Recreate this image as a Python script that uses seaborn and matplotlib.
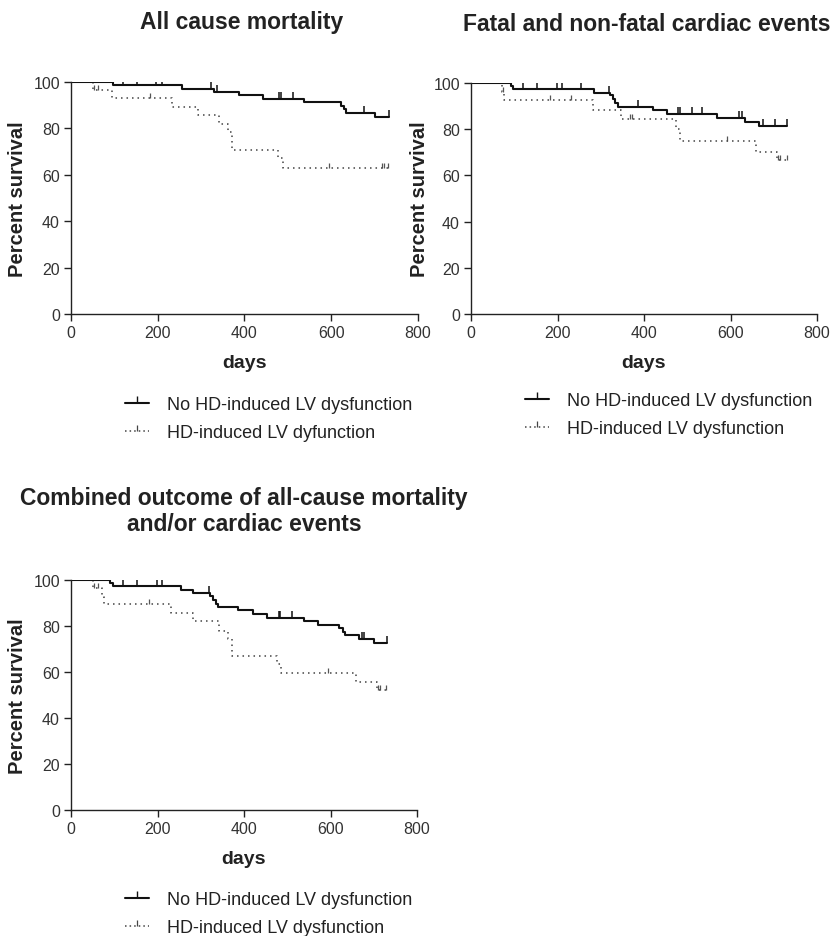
import numpy as np
import pandas as pd
import matplotlib
matplotlib.use("Agg")
import matplotlib.pyplot as plt
from matplotlib.lines import Line2D
import seaborn as sns

# ---------------- data ----------------
titles = ["All cause mortality",
          "Fatal and non-fatal cardiac events",
          "Combined outcome of all-cause mortality\nand/or cardiac events"]
legend_no = ["No HD-induced LV dysfunction"] * 3
legend_hd = ["HD-induced LV dyfunction", "HD-induced LV dysfunction", "HD-induced LV dysfunction"]
x_ticks = [0, 200, 400, 600, 800]
y_ticks = [0, 20, 40, 60, 80, 100]

# Panel 1: all cause mortality
p1_no_t = [0, 97, 255, 329, 387, 443, 537, 622, 630, 635, 702, 732]
p1_no_s = [100, 98.7, 97.1, 95.7, 94.2, 92.7, 91.2, 89.6, 88.5, 86.6, 84.9, 84.9]
p1_no_c = [32, 57, 120, 153, 197, 210, 322, 337, 479, 483, 511, 676, 732]
p1_hd_t = [0, 51, 94, 232, 292, 341, 361, 372, 478, 488, 732]
p1_hd_s = [100, 96.7, 93.1, 89.2, 85.6, 82.0, 78.4, 70.8, 67.2, 63.0, 63.0]
p1_hd_c = [54, 63, 182, 595, 717, 721, 731]

# Panel 2: fatal and non-fatal cardiac events
p2_no_t = [0, 92, 98, 284, 321, 329, 333, 340, 421, 454, 569, 633, 666, 731]
p2_no_s = [100, 98.7, 97.3, 95.8, 94.7, 92.9, 91.3, 89.6, 88.2, 86.7, 84.8, 83.1, 81.4, 81.4]
p2_no_c = [32, 54, 59, 65, 121, 153, 198, 211, 254, 319, 385, 479, 483, 511, 535,
           620, 627, 675, 702, 731]
p2_hd_t = [0, 72, 76, 283, 346, 475, 484, 658, 708, 731]
p2_hd_s = [100, 96.2, 92.5, 88.2, 84.2, 79.9, 75.1, 70.1, 66.5, 66.5]
p2_hd_c = [74, 182, 232, 367, 373, 592, 710, 714, 730]

# Panel 3: combined outcome
p3_no_t = [0, 90, 96, 254, 283, 322, 328, 336, 339, 386, 420, 453, 538, 570, 620, 628,
           634, 665, 701, 731]
p3_no_s = [100, 98.8, 97.4, 95.7, 94.2, 93.0, 91.3, 89.7, 88.3, 86.8, 85.4, 83.6, 82.2,
           80.4, 79.0, 77.5, 75.9, 74.2, 72.8, 72.8]
p3_no_c = [32, 57, 121, 152, 198, 211, 319, 480, 484, 512, 673, 677, 731]
p3_hd_t = [0, 52, 72, 76, 231, 282, 343, 364, 373, 476, 485, 659, 707, 731]
p3_hd_s = [100, 96.4, 92.8, 89.4, 85.8, 82.2, 77.8, 74.2, 67.0, 63.3, 59.4, 55.8, 52.2, 52.2]
p3_hd_c = [54, 63, 181, 594, 710, 715, 729]

panels = [
    (p1_no_t, p1_no_s, p1_no_c, p1_hd_t, p1_hd_s, p1_hd_c),
    (p2_no_t, p2_no_s, p2_no_c, p2_hd_t, p2_hd_s, p2_hd_c),
    (p3_no_t, p3_no_s, p3_no_c, p3_hd_t, p3_hd_s, p3_hd_c),
]

# ---------------- style ----------------
sns.set_style("ticks")
plt.rcParams["font.family"] = ["Liberation Sans", "DejaVu Sans"]
TXT = "#222222"
TICK = "#333333"

fig = plt.figure(figsize=(8.33, 9.37), dpi=100)
W, H = 833, 937
rects = [(71, 83, 347, 232), (471, 84, 346, 231), (71, 581, 346, 230)]
legend_pos = [(125, 397), (525, 393), (125, 892)]
ylabel_right = [27, 429, 27]
title_pad = [39, 38, 36]
title_shift = [-3, 3, 0]


def step_value(times, surv, t):
    idx = np.searchsorted(np.asarray(times), t, side="right") - 1
    return np.asarray(surv)[idx]


for i, (rect, data) in enumerate(zip(rects, panels)):
    l, t, w, h = rect
    ax = fig.add_axes([l / W, 1 - (t + h) / H, w / W, h / H])
    no_t, no_s, no_c, hd_t, hd_s, hd_c = data

    df_no = pd.DataFrame({"days": no_t, "surv": no_s})
    df_hd = pd.DataFrame({"days": hd_t, "surv": hd_s})
    sns.lineplot(data=df_hd, x="days", y="surv", ax=ax, estimator=None,
                 drawstyle="steps-post", color="#444444", linewidth=1.1,
                 linestyle=(0, (1, 2.6)))
    sns.lineplot(data=df_no, x="days", y="surv", ax=ax, estimator=None,
                 drawstyle="steps-post", color="#111111", linewidth=1.5)

    cy_no = step_value(no_t, no_s, no_c)
    cy_hd = step_value(hd_t, hd_s, hd_c)
    sns.scatterplot(x=no_c, y=cy_no, ax=ax, marker=2, s=22, color="#111111",
                    linewidth=1.1, legend=False)
    sns.scatterplot(x=hd_c, y=cy_hd, ax=ax, marker=2, s=12, color="#555555",
                    linewidth=0.9, legend=False)

    ax.set_xlim(0, 800)
    ax.set_ylim(0, 100)
    ax.set_xticks(x_ticks)
    ax.set_yticks(y_ticks)
    for s in ["top", "right"]:
        ax.spines[s].set_visible(False)
    for s in ["left", "bottom"]:
        ax.spines[s].set_linewidth(1.0)
        ax.spines[s].set_color("#222222")
    ax.tick_params(axis="both", direction="out", length=5, width=1.0, color="#222222",
                   labelsize=11.5, labelcolor=TICK, pad=3)

    ax.set_xlabel("days", fontsize=14, fontweight="bold", color=TXT)
    ax.set_ylabel("Percent survival", fontsize=14.5, fontweight="bold", color=TXT)
    ax.xaxis.set_label_coords(0.5, -40 / h)
    ax.yaxis.set_label_coords(-(l - ylabel_right[i]) / w, 0.5)
    ax.set_title(titles[i], fontsize=16.5, fontweight="bold", color=TXT,
                 pad=title_pad[i], linespacing=1.15, x=0.5 + title_shift[i] / w)

    handles = [
        Line2D([], [], color="#111111", lw=1.5, marker=2, markersize=5, mew=1.0),
        Line2D([], [], color="#444444", lw=1.1, linestyle=(0, (1, 2.0)), marker=2,
               markersize=4, mew=0.9),
    ]
    lx, ly = legend_pos[i]
    ax.legend(handles, [legend_no[i], legend_hd[i]], loc="upper left",
              bbox_to_anchor=(lx / W, 1 - ly / H), bbox_transform=fig.transFigure,
              frameon=False, fontsize=13, handlelength=1.35, handletextpad=0.95,
              labelspacing=0.6, borderpad=0, borderaxespad=0, labelcolor=TXT)

fig.savefig("out.png", dpi=100)
